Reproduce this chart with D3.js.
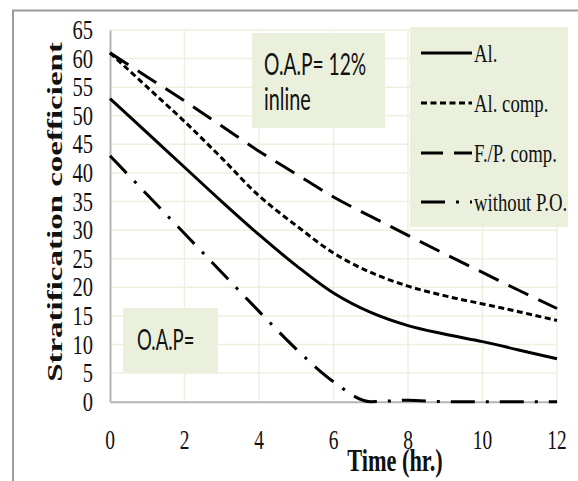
<!DOCTYPE html>
<html>
<head>
<meta charset="utf-8">
<script src="https://cdn.jsdelivr.net/npm/d3@7/dist/d3.min.js"></script>
<style>
  html, body { margin: 0; padding: 0; background: #fff; }
  svg { display: block; }
</style>
</head>
<body>
<svg id="chart" width="578" height="481"></svg>
<script>
// Stratification coefficient over time for each PO configuration
const hours = [0, 1, 2, 3, 4, 5, 6, 7, 8, 9, 10, 11, 12];
const al = [53, 47, 41, 35, 29.2, 23.8, 19.0, 15.6, 13.3, 11.8, 10.5, 9.0, 7.5];
const alComp = [61, 55, 49, 42.6, 36, 30.8, 26.0, 22.6, 20.2, 18.5, 17.1, 15.7, 14.2];
const fpComp = [61, 56.8, 52.6, 48.2, 43.8, 39.8, 35.8, 32.4, 29.1, 25.8, 22.6, 19.4, 16.3];
const withoutPO = [43, 36.2, 29.4, 22.6, 15.8, 9.2, 3.5, 0, 0.25, 0, 0, 0, 0];

const seriesNames = ["Al.", "Al. comp.", "F./P. comp.", "without P.O."];
const seriesValues = [al, alComp, fpComp, withoutPO];
const seriesDash = [null, "6,3.5", "22,11", "24,11,3,11"];

const xTicks = [0, 2, 4, 6, 8, 10, 12];
const yTicks = [0, 5, 10, 15, 20, 25, 30, 35, 40, 45, 50, 55, 60, 65];
const xTitle = "Time (hr.)";
const yTitle = "Stratification coefficient";
const noteTop = ["O.A.P= 12%", "inline"];
const noteBottom = "O.A.P=";

const svg = d3.select("#chart");
const serif = "'Liberation Serif', 'Times New Roman', serif";
const sans = "Lato, 'Open Sans', sans-serif";

const x = d3.scaleLinear().domain([0, 12]).range([110, 557]);
const y = d3.scaleLinear().domain([0, 65]).range([401.7, 30]);

// outer frame (top and left edges)
svg.append("path")
  .attr("d", "M13,481 L13,10.5 L578,10.5")
  .attr("fill", "none").attr("stroke", "#9c9c9c").attr("stroke-width", 2);

// gridlines
const grid = svg.append("g").attr("stroke", "#efefe0").attr("stroke-width", 1.5);
grid.selectAll("line.h").data(yTicks.filter(d => d > 0)).join("line")
  .attr("x1", x(0)).attr("x2", x(12))
  .attr("y1", d => y(d)).attr("y2", d => y(d));
grid.selectAll("line.v").data(xTicks.filter(d => d > 0)).join("line")
  .attr("y1", y(0)).attr("y2", y(65))
  .attr("x1", d => x(d)).attr("x2", d => x(d));

// axes
const xAxis = svg.append("g").attr("transform", `translate(0,${y(0)})`)
  .call(d3.axisBottom(x).tickValues(xTicks).tickSize(0).tickFormat(""));
const yAxis = svg.append("g").attr("transform", `translate(${x(0)},0)`)
  .call(d3.axisLeft(y).tickValues(yTicks).tickSize(0).tickFormat(""));
[xAxis, yAxis].forEach(g => g.select(".domain").attr("stroke", "#b4b4b4").attr("stroke-width", 2));

function label(px, py, text, opts) {
  const o = Object.assign({ size: 26, sx: 0.78, anchor: "middle", weight: "normal", family: serif, rotate: 0 }, opts);
  return svg.append("text")
    .attr("transform", `translate(${px},${py}) scale(${o.sx},1)` + (o.rotate ? ` rotate(${o.rotate})` : ""))
    .attr("text-anchor", o.anchor)
    .attr("font-family", o.family)
    .attr("font-weight", o.weight)
    .attr("font-size", o.size)
    .attr("fill", "#111")
    .text(text);
}

// tick labels
xTicks.forEach(t => label(x(t), 449, String(t), { size: 27, sx: 0.72 }));
yTicks.forEach(t => label(93, y(t) + 9, String(t), { size: 27, sx: 0.76, anchor: "end" }));

// axis titles
label(395, 471, xTitle, { size: 31, sx: 0.72, weight: "bold" });
label(62, 212, yTitle, { size: 33, sx: 0.62, weight: "bold", rotate: -90 });

// annotation boxes
svg.append("rect").attr("x", 252).attr("y", 33).attr("width", 133).attr("height", 95).attr("fill", "#eaf0dc");
label(264, 75, noteTop[0], { size: 30, sx: 0.64, anchor: "start", family: sans });
label(264, 110, noteTop[1], { size: 30, sx: 0.66, anchor: "start", family: sans });
svg.append("rect").attr("x", 123).attr("y", 308).attr("width", 95).attr("height", 65).attr("fill", "#eaf0dc");
label(137, 350, noteBottom, { size: 28, sx: 0.66, anchor: "start", family: sans });

// data lines: smooth curves, with the flattening series kept monotone
const smooth = d3.line().x((d, i) => x(hours[i])).y(d => y(d)).curve(d3.curveCatmullRom.alpha(0.5));
const mono = d3.line().x((d, i) => x(hours[i])).y(d => y(d)).curve(d3.curveMonotoneX);
svg.append("g").selectAll("path").data(seriesValues).join("path")
  .attr("d", (d, i) => i === 3 ? mono(d) : smooth(d))
  .attr("fill", "none")
  .attr("stroke", "#000")
  .attr("stroke-width", 3)
  .attr("stroke-dasharray", (d, i) => seriesDash[i]);

// legend
svg.append("rect").attr("x", 410).attr("y", 27).attr("width", 158).attr("height", 200).attr("fill", "#eaf0dc");
const legendRows = [62, 112, 162, 211];
seriesNames.forEach((name, i) => {
  svg.append("line")
    .attr("x1", 421).attr("x2", 472)
    .attr("y1", legendRows[i] - 9).attr("y2", legendRows[i] - 9)
    .attr("stroke", "#000").attr("stroke-width", 3)
    .attr("stroke-dasharray", seriesDash[i]);
  label(474, legendRows[i], name, { size: 25, sx: 0.75, anchor: "start" });
});
</script>
</body>
</html>
